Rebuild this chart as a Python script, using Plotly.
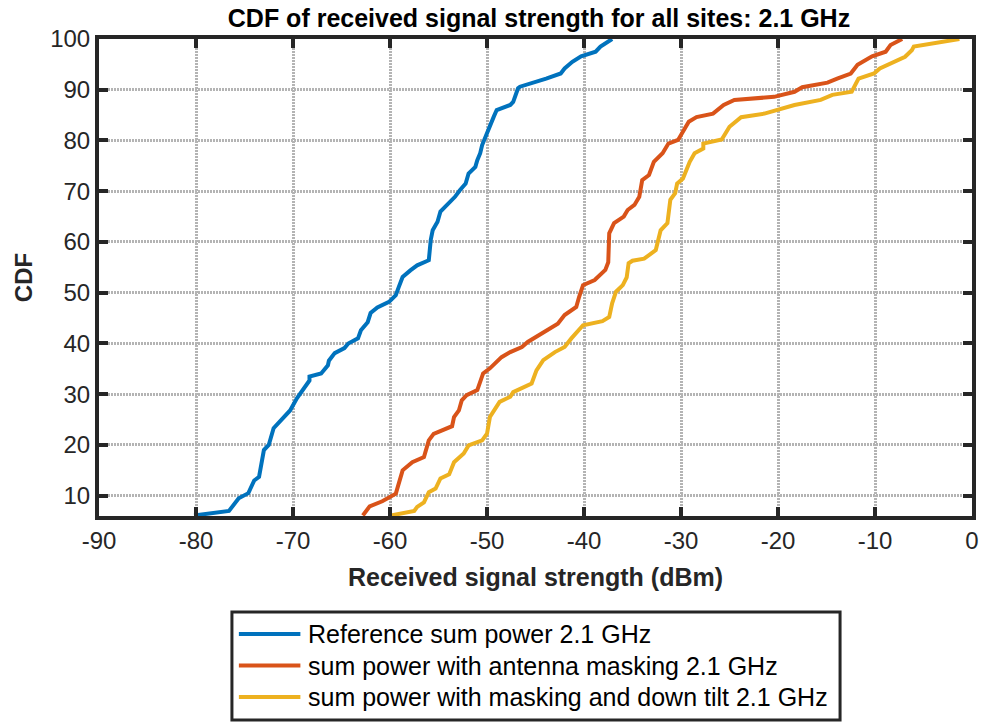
import plotly.graph_objects as go

# Empirical CDF curves (received power in dBm, cumulative percentage)
ref_x = [-80.2, -76.6, -75.6, -74.6, -74.0, -73.5, -73.0, -72.5, -72.0, -71.5,
         -70.3, -69.6, -68.3, -68.3, -67.1, -66.4, -66.3, -65.7, -64.7, -64.3,
         -63.3, -63.0, -62.3, -62.0, -61.3, -60.1, -59.4, -59.1, -58.7, -57.9,
         -57.2, -56.0, -55.8, -55.6, -55.1, -54.8, -53.3, -52.8, -52.2, -51.9,
         -51.2, -51.0, -50.7, -50.5, -50.2, -49.8, -49.3, -49.0, -47.6, -47.3,
         -46.8, -46.6, -44.7, -43.9, -42.4, -42.0, -41.2, -40.3, -38.8, -38.3,
         -37.1]
ref_y = [6.1, 7.0, 9.5, 10.5, 13.0, 13.7, 19.0, 20.0, 23.3, 24.3,
         26.8, 29.2, 32.7, 33.5, 34.1, 35.7, 36.6, 38.1, 39.1, 40.0,
         41.0, 42.6, 44.2, 46.0, 47.1, 48.2, 49.5, 51.1, 53.1, 54.4,
         55.4, 56.4, 60.4, 62.3, 64.0, 66.0, 68.9, 70.2, 71.5, 73.5,
         74.8, 76.1, 77.5, 79.1, 80.6, 82.3, 84.7, 86.0, 87.0, 87.6,
         90.3, 90.6, 91.6, 92.2, 93.2, 94.2, 95.5, 96.6, 97.5, 98.5,
         100.0]

mask_x = [-62.8, -62.1, -60.8, -59.4, -58.7, -57.7, -56.5, -56.0, -55.5, -53.6,
          -53.4, -52.9, -52.6, -52.1, -51.0, -50.7, -50.4, -49.7, -48.5, -47.6,
          -46.4, -45.8, -44.1, -42.7, -42.0, -40.8, -40.5, -40.1, -38.9, -37.8,
          -37.5, -37.4, -36.9, -35.9, -35.5, -34.8, -34.3, -34.0, -33.3, -32.8,
          -31.9, -31.3, -30.3, -29.8, -29.2, -28.4, -26.7, -25.6, -24.5, -20.4,
          -18.3, -17.5, -14.9, -13.9, -12.5, -11.8, -10.3, -8.9, -8.4, -7.2]
mask_y = [6.1, 7.9, 8.9, 10.4, 15.0, 16.6, 17.6, 20.9, 22.2, 23.7,
          25.5, 26.8, 28.8, 29.8, 30.8, 32.7, 34.1, 35.1, 37.3, 38.3,
          39.3, 40.3, 42.3, 43.9, 45.6, 47.2, 49.2, 51.5, 52.5, 54.5,
          56.0, 61.7, 63.7, 65.0, 66.3, 67.3, 68.9, 72.2, 73.2, 75.8,
          77.5, 79.4, 80.1, 81.7, 83.7, 84.6, 85.3, 87.0, 88.0, 88.6,
          89.6, 90.5, 91.4, 92.2, 93.2, 94.9, 96.6, 97.5, 98.8, 100.0]

tilt_x = [-59.9, -57.5, -57.2, -56.5, -56.0, -55.3, -54.8, -53.9, -53.4, -52.4,
          -51.9, -50.5, -50.0, -49.7, -48.7, -47.6, -47.3, -45.4, -44.9, -44.2,
          -43.0, -42.0, -41.3, -40.5, -40.1, -38.1, -37.4, -37.1, -36.7, -36.0,
          -35.6, -35.4, -35.0, -33.8, -32.6, -32.1, -31.4, -31.1, -30.6, -30.4,
          -29.8, -29.1, -28.6, -27.7, -27.7, -25.8, -25.0, -23.8, -21.4, -18.3,
          -15.6, -14.4, -12.4, -11.7, -10.1, -9.5, -6.9, -6.2, -6.0, -1.3]
tilt_y = [6.1, 7.0, 7.8, 8.7, 10.7, 11.4, 13.4, 14.2, 16.6, 18.3,
          19.9, 20.9, 22.2, 25.5, 28.5, 29.5, 30.4, 32.1, 34.7, 36.7,
          38.3, 39.3, 41.0, 42.6, 43.6, 44.4, 45.2, 47.9, 50.2, 51.5,
          53.0, 55.8, 56.3, 56.7, 58.4, 62.3, 63.7, 68.3, 69.6, 71.5,
          72.5, 75.8, 77.5, 78.4, 79.4, 80.2, 82.7, 84.6, 85.3, 87.0,
          88.0, 89.0, 89.6, 92.2, 93.2, 94.2, 96.5, 97.8, 98.5, 100.0]

series_names = ["Reference sum power 2.1 GHz",
                "sum power with antenna masking 2.1 GHz",
                "sum power with masking and down tilt 2.1 GHz"]
series_colors = ["#0072BD", "#D95319", "#EDB120"]

x_ticks = [-90, -80, -70, -60, -50, -40, -30, -20, -10, 0]
x_tick_labels = ["-90", "-80", "-70", "-60", "-50", "-40", "-30", "-20", "-10", "0"]
y_ticks = [10, 20, 30, 40, 50, 60, 70, 80, 90, 100]

FONT = "Liberation Sans, Arial, sans-serif"
AXIS_DARK = "#262626"

W, H = 989, 722
M_L, M_R, M_T, M_B = 99, 10, 39, 206
PLOT_W = W - M_L - M_R
PLOT_H = H - M_T - M_B


def to_paper(px, py):
    """Convert figure pixel position to paper coordinates."""
    return (px - M_L) / PLOT_W, (H - M_B - py) / PLOT_H


fig = go.Figure()
for xs, ys, name, color in zip([ref_x, mask_x, tilt_x], [ref_y, mask_y, tilt_y],
                               series_names, series_colors):
    fig.add_trace(go.Scatter(x=xs, y=ys, mode="lines", name=name,
                             line=dict(color=color, width=4), showlegend=False))

# Boxed legend below the x-axis title
box_x0, box_y0 = to_paper(233, 612)
box_x1, box_y1 = to_paper(846, 720)
fig.add_shape(type="rect", xref="paper", yref="paper",
              x0=box_x0, y0=box_y0, x1=box_x1, y1=box_y1,
              line=dict(color=AXIS_DARK, width=3), fillcolor="white", layer="above")
row_py = [634, 665.5, 697]
for name, color, py in zip(series_names, series_colors, row_py):
    lx0, ly = to_paper(240, py)
    lx1, _ = to_paper(302, py)
    tx, _ = to_paper(308, py)
    fig.add_shape(type="line", xref="paper", yref="paper",
                  x0=lx0, y0=ly, x1=lx1, y1=ly,
                  line=dict(color=color, width=4), layer="above")
    fig.add_annotation(xref="paper", yref="paper", x=tx, y=ly,
                       xanchor="left", yanchor="middle", showarrow=False,
                       text=name, font=dict(family=FONT, size=25, color="black"))

axis_common = dict(
    showline=True, linecolor=AXIS_DARK, linewidth=4, mirror="ticks",
    ticks="inside", ticklen=9, tickwidth=4, tickcolor=AXIS_DARK,
    showgrid=True, gridcolor="#b4b4b4", gridwidth=3, griddash="2px,1px",
    zeroline=False,
    tickfont=dict(family=FONT, size=24, color=AXIS_DARK),
)

fig.update_layout(
    width=W, height=H,
    margin=dict(l=M_L, r=M_R, t=M_T, b=M_B),
    paper_bgcolor="white", plot_bgcolor="white",
    title=dict(text="<b>CDF of received signal strength for all sites: 2.1 GHz</b>",
               x=(99 + 979) / 2 / W, xanchor="center",
               y=1 - 18 / H, yanchor="middle",
               font=dict(family=FONT, size=25, color="black")),
    xaxis=dict(range=[-90, 0], tickvals=x_ticks, ticktext=x_tick_labels,
               title=dict(text="<b>Received signal strength (dBm)</b>",
                          font=dict(family=FONT, size=25, color=AXIS_DARK),
                          standoff=17),
               **axis_common),
    yaxis=dict(range=[6, 100], tickvals=y_ticks,
               title=dict(text="<b>CDF</b>",
                          font=dict(family=FONT, size=24, color=AXIS_DARK),
                          standoff=12),
               **axis_common),
    showlegend=False,
)

fig.write_html("out.html")
